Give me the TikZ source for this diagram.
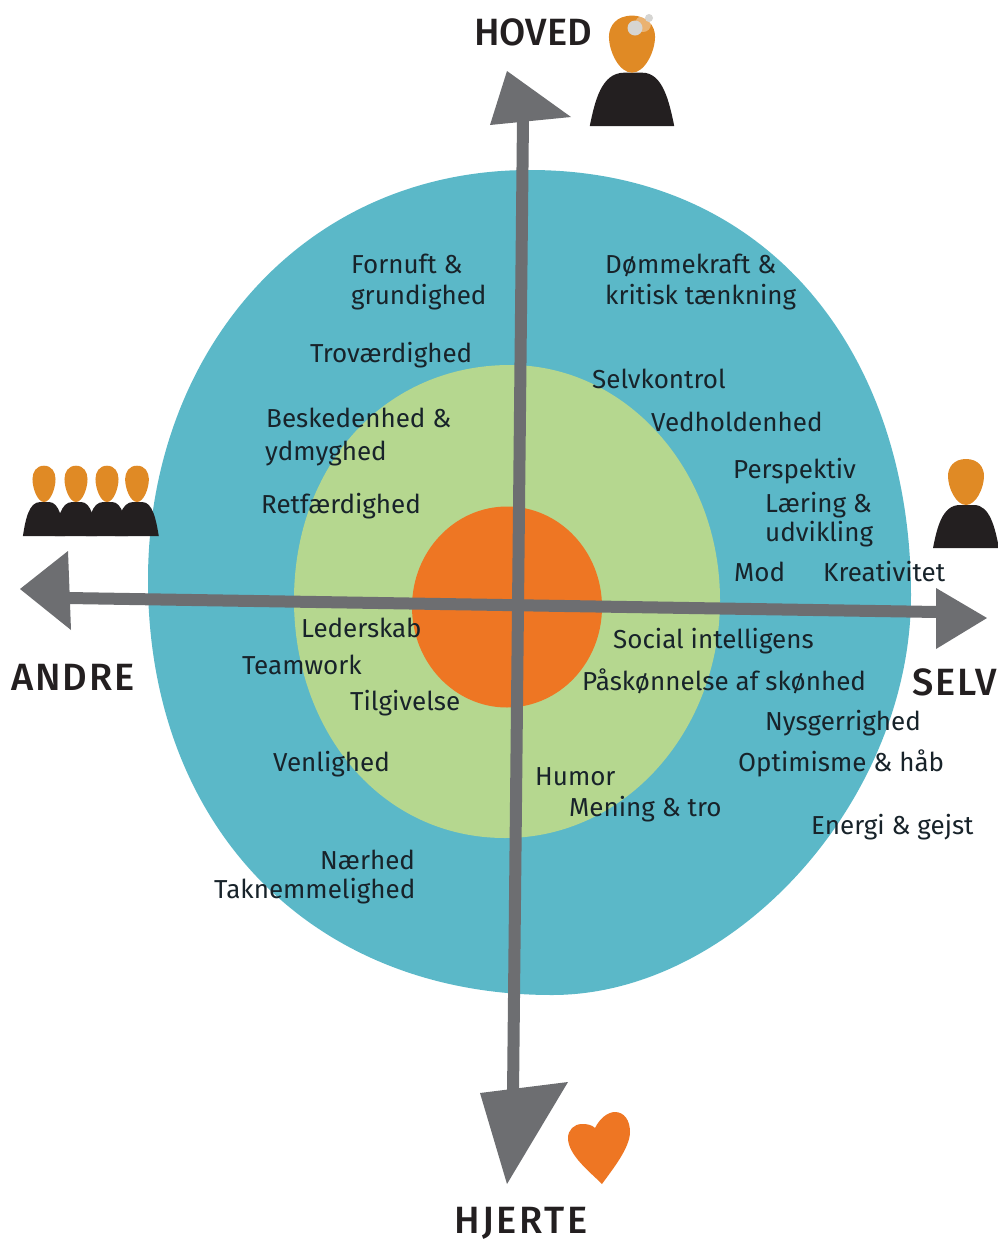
\documentclass[tikz,border=0pt]{standalone}
\usepackage{fontspec}
\setmainfont{Fira Sans}
\newfontfamily\headfont{Fira Sans Medium}
\newfontfamily\headwide[LetterSpace=5]{Fira Sans Medium}
\newfontfamily\headwider[LetterSpace=7]{Fira Sans Medium}
\definecolor{ringteal}{HTML}{5BB8C8}
\definecolor{ringgreen}{HTML}{B5D78F}
\definecolor{ringorange}{HTML}{EE7623}
\definecolor{axisgrey}{HTML}{6D6E71}
\definecolor{headorange}{HTML}{E08A25}
\definecolor{inkblack}{HTML}{231F20}
\definecolor{inkdark}{HTML}{18232A}
\definecolor{bulbgrey}{HTML}{D6D5D2}
\tikzset{
  myl/.style={anchor=base west,inner sep=0pt,align=left,text=inkdark,font=\fontsize{26}{31}\selectfont},
  myh/.style={anchor=base west,inner sep=0pt,text=inkblack,font=\headfont\fontsize{38}{40}\selectfont},
  mya/.style={draw=axisgrey,line width=12pt},
  myt/.style={fill=axisgrey},
  person/.pic={
    \fill[inkblack] (-33,0) .. controls (-29,-20) and (-24,-43) .. (-6,-43) -- (8,-43) .. controls (24,-43) and (29,-20) .. (33,0) -- cycle;
    \fill[headorange] (0,-89) .. controls (12,-89) and (18,-81) .. (18,-72) .. controls (18,-60) and (10,-43) .. (0,-43) .. controls (-10,-43) and (-18,-60) .. (-18,-72) .. controls (-18,-81) and (-12,-89) .. (0,-89) -- cycle;
  }
}
\begin{document}
\begin{tikzpicture}[x=1pt,y=-1pt]
  \useasboundingbox (0,0) rectangle (998,1243);

  % rings
  \fill[ringteal] (530,170) .. controls (770,170) and (911,355) .. (911,595) .. controls (911,800) and (735,995) .. (552,995) .. controls (310,995) and (148,825) .. (148,580) .. controls (148,355) and (300,170) .. (530,170) -- cycle;
  \fill[ringgreen] (510,365) .. controls (626,365) and (720,470) .. (720,600) .. controls (720,730) and (626,838) .. (505,838) .. controls (380,838) and (294,730) .. (294,600) .. controls (294,465) and (385,365) .. (510,365) -- cycle;
  \fill[ringorange] (507,607) ellipse [x radius=95,y radius=100.5];

  % axes
  \coordinate (up) at (523,118);
  \coordinate (down) at (513,1095);
  \coordinate (left) at (68,598);
  \coordinate (right) at (938,612);
  \draw[mya] (down) -- (up);
  \draw[mya] (left) -- (right);
  \fill[myt] (507,71) -- (571,117) -- (490,125) -- cycle;
  \fill[myt] (68,551) -- (20,589) -- (71,630) -- cycle;
  \fill[myt] (936,588) -- (987,618) -- (936,649) -- cycle;
  \fill[myt] (480,1093) -- (568,1082) -- (507,1184) -- cycle;

  % labels
  \node[myh] (hoved) at (474,45) {HOVED};
  \node[myh,font=\headwide\fontsize{38}{40}\selectfont] (andre) at (11,690) {ANDRE};
  \node[myh,font=\headwide\fontsize{38}{40}\selectfont] (selv) at (912,695) {SELV};
  \node[myh,font=\headwider\fontsize{38}{40}\selectfont] (hjerte) at (454,1233) {HJERTE};

  \node[myl] (fornuft) at (351,273) {Fornuft \&};
  \node[myl] (grund) at (351,304) {grundighed};
  \node[myl] (domme) at (605,273) {Dømmekraft \&};
  \node[myl] (kritisk) at (605,304) {kritisk tænkning};
  \node[myl] (trov) at (310,362) {Troværdighed};
  \node[myl] (selvk) at (592,388) {Selvkontrol};
  \node[myl] (besk) at (266,427) {Beskedenhed \&};
  \node[myl] (ydm) at (265,460) {ydmyghed};
  \node[myl] (vedh) at (651,431) {Vedholdenhed};
  \node[myl] (persp) at (733,478) {Perspektiv};
  \node[myl] (laer) at (765,512) {Læring \&};
  \node[myl] (udv) at (765,541) {udvikling};
  \node[myl] (retf) at (261,513) {Retfærdighed};
  \node[myl] (mod) at (734,581) {Mod};
  \node[myl] (krea) at (823,581) {Kreativitet};
  \node[myl] (leder) at (301,637) {Lederskab};
  \node[myl] (social) at (613,648) {Social intelligens};
  \node[myl] (team) at (242,674) {Teamwork};
  \node[myl] (pask) at (582,690) {Påskønnelse af skønhed};
  \node[myl] (tilg) at (350,710) {Tilgivelse};
  \node[myl] (nysg) at (765,730) {Nysgerrighed};
  \node[myl] (venl) at (273,771) {Venlighed};
  \node[myl] (opti) at (738,771) {Optimisme \& håb};
  \node[myl] (humor) at (535,785) {Humor};
  \node[myl] (mening) at (569,816) {Mening \& tro};
  \node[myl] (energi) at (811,834) {Energi \& gejst};
  \node[myl] (naer) at (320,869) {Nærhed};
  \node[myl] (takn) at (214,898) {Taknemmelighed};

  % people
  \pic at (632,126) [xscale=1.28,yscale=1.24] {person};
  \fill[white,opacity=.35] (643,24) circle (8);
  \fill[bulbgrey] (635,28) circle (7.5);
  \fill[bulbgrey] (649,18) circle (4);
  \pic at (966,548) {person};
  \pic at (44,536) [xscale=.64,yscale=.79] {person};
  \pic at (76,536) [xscale=.64,yscale=.79] {person};
  \pic at (107,536) [xscale=.64,yscale=.79] {person};
  \pic at (137,536) [xscale=.66,yscale=.79] {person};

  % heart
  \fill[ringorange] (595,1128) .. controls (600,1118) and (608,1112) .. (615,1112) .. controls (624,1112) and (630,1120) .. (630,1132) .. controls (630,1148) and (612,1170) .. (602,1184) .. controls (590,1172) and (568,1155) .. (568,1138) .. controls (568,1130) and (574,1124) .. (582,1124) .. controls (588,1124) and (592,1125) .. (595,1128) -- cycle;
\end{tikzpicture}
\end{document}
